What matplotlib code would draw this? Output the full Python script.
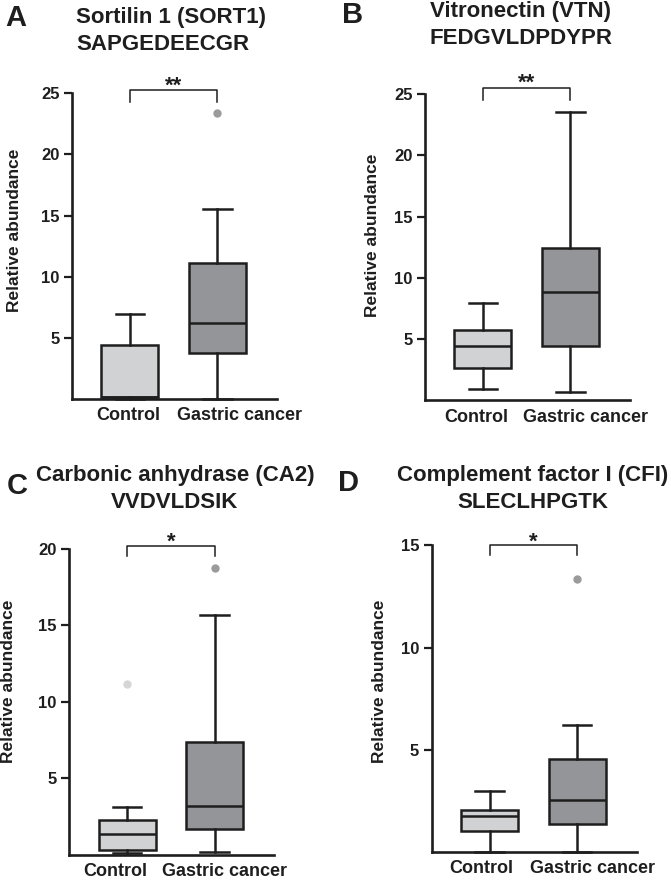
import matplotlib
matplotlib.use("Agg")
import matplotlib.pyplot as plt

plt.rcParams['font.family'] = ['Liberation Sans', 'DejaVu Sans']

# ---------------- data ----------------
groups = ["Control", "Gastric cancer"]
panel_letters = ["A", "B", "C", "D"]
proteins = ["Sortilin 1 (SORT1)", "Vitronectin (VTN)",
            "Carbonic anhydrase (CA2)", "Complement factor I (CFI)"]
peptides = ["SAPGEDEECGR", "FEDGVLDPDYPR", "VVDVLDSIK", "SLECLHPGTK"]
significance = ["**", "**", "*", "*"]
y_max = [25, 25, 20, 15]
y_ticks = [[5, 10, 15, 20, 25], [5, 10, 15, 20, 25], [5, 10, 15, 20], [5, 10, 15]]

# box statistics: [whislo, q1, med, q3, whishi]
sort1_control = [0.0, 0.14, 0.14, 4.45, 6.92]
sort1_gastric = [0.0, 3.8, 6.2, 11.1, 15.55]
sort1_fliers = [[], [23.4]]
vtn_control = [0.9, 2.6, 4.45, 5.72, 7.92]
vtn_gastric = [0.7, 4.45, 8.82, 12.4, 23.57]
vtn_fliers = [[], []]
ca2_control = [0.1, 0.33, 1.34, 2.27, 3.15]
ca2_gastric = [0.2, 1.71, 3.19, 7.4, 15.7]
ca2_fliers = [[11.14], [18.75]]
cfi_control = [0.0, 1.02, 1.76, 2.03, 2.98]
cfi_gastric = [0.0, 1.35, 2.54, 4.56, 6.19]
cfi_fliers = [[], [13.37]]

panel_stats = [(sort1_control, sort1_gastric, sort1_fliers),
               (vtn_control, vtn_gastric, vtn_fliers),
               (ca2_control, ca2_gastric, ca2_fliers),
               (cfi_control, cfi_gastric, cfi_fliers)]

# ---------------- layout (pixels) ----------------
W, H = 671, 882
fig = plt.figure(figsize=(W / 100, H / 100), dpi=100)

# left, top, bottom of axes in pixels
ax_px = [(72, 93.3, 399), (425, 94.3, 400.2), (69.3, 548.7, 855), (431.7, 545.3, 852)]
ax_w = 205
# x positions (data units) of the group labels
label_x = [(0.98, 2.25), (0.92, 2.17), (0.86, 2.11), (0.91, 2.17)]
# bracket top / leg bottom (axes fraction), star baseline
bracket = [(1.011, 0.9725, 1.004), (1.0196, 0.9814, 1.018), (1.0088, 0.9762, 1.002), (1.0, 0.9684, 0.992)]
# titles: (x, ha, y line1, y line2)
title_pos = [(76, 'left', 18, 45), (521, 'center', 12, 38), (175, 'center', 476, 502.7), (533, 'center', 476, 502.7)]
letter_pos = [(5, 18), (341.7, 15), (6.7, 486), (338, 482.7)]
ylabel_pos = [(15, 230), (372.5, 235), (9, 681), (380, 681.8)]

ctrl_color = '#d1d2d4'
gast_color = '#939598'
line_color = '#1e1e1e'
flier_colors = ['#d6d6d6', '#9b9b9b']
LW = 1.8

def fx(px):
    return px / W

def fy(py):
    return 1 - py / H

for i in range(4):
    left, top, bottom = ax_px[i]
    ax = fig.add_axes([fx(left), fy(bottom), ax_w / W, (bottom - top) / H])
    c, g, fl = panel_stats[i]
    stats = []
    for vals, f, lab in ((c, fl[0], groups[0]), (g, fl[1], groups[1])):
        stats.append(dict(whislo=vals[0], q1=vals[1], med=vals[2], q3=vals[3],
                          whishi=vals[4], fliers=f, label=lab))
    bp = ax.bxp(stats, positions=[1, 2], widths=0.65, patch_artist=True,
                boxprops=dict(linewidth=LW, edgecolor=line_color),
                whiskerprops=dict(linewidth=LW, color=line_color),
                capprops=dict(linewidth=LW, color=line_color),
                medianprops=dict(linewidth=LW, color=line_color),
                flierprops=dict(marker='o', markersize=6, markeredgewidth=0),
                manage_ticks=False)
    for patch, col in zip(bp['boxes'], [ctrl_color, gast_color]):
        patch.set_facecolor(col)
    for fline, col in zip(bp['fliers'], flier_colors):
        fline.set_markerfacecolor(col)
        fline.set_markeredgecolor(col)
        fline.set_clip_on(False)
    for art in bp['caps'] + bp['whiskers'] + bp['medians'] + bp['boxes']:
        art.set_clip_on(False)

    ax.set_xlim(0.34, 2.68)
    ax.set_ylim(0, y_max[i])
    ax.set_yticks(y_ticks[i])
    ax.set_yticklabels([str(t) for t in y_ticks[i]], fontsize=12, fontweight='bold')
    ax.set_xticks(list(label_x[i]))
    ax.set_xticklabels(groups, fontsize=13, fontweight='bold')
    ax.tick_params(axis='x', length=0, pad=6, colors=line_color)
    ax.tick_params(axis='y', length=6, width=1.6, pad=3, direction='out', colors=line_color)
    for s in ['top', 'right']:
        ax.spines[s].set_visible(False)
    for s in ['left', 'bottom']:
        ax.spines[s].set_linewidth(1.9)
        ax.spines[s].set_color(line_color)
    ax.set_facecolor('none')

    # significance bracket
    btop, bleg, sy = bracket[i]
    trans = ax.get_xaxis_transform()
    ax.plot([1, 1, 2, 2], [bleg, btop, btop, bleg], color=line_color, lw=1.1,
            transform=trans, clip_on=False)
    ax.text(1.5, sy, significance[i], transform=trans, ha='center', va='baseline',
            fontsize=16, fontweight='bold', color=line_color)

    # titles and letters
    tx, ha, ty1, ty2 = title_pos[i]
    fig.text(fx(tx), fy(ty1), proteins[i], ha=ha, va='center', fontsize=16,
             fontweight='bold', color=line_color)
    fig.text(fx(tx), fy(ty2), peptides[i], ha=ha, va='center', fontsize=16,
             fontweight='bold', color=line_color)
    lx, ly = letter_pos[i]
    fig.text(fx(lx), fy(ly), panel_letters[i], ha='left', va='center', fontsize=21,
             fontweight='bold', color=line_color)
    yx, yy = ylabel_pos[i]
    fig.text(fx(yx), fy(yy), "Relative abundance", rotation=90, ha='center',
             va='center', fontsize=12.5, fontweight='bold', color=line_color)

fig.savefig("out.png", dpi=100)
